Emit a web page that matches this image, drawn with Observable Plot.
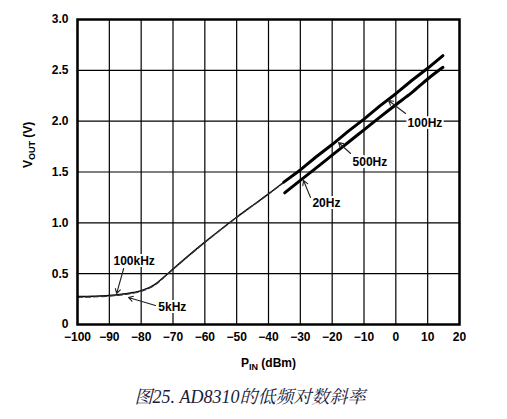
<!DOCTYPE html>
<html><head><meta charset="utf-8">
<script src="https://cdn.jsdelivr.net/npm/d3@7"></script>
<script src="https://cdn.jsdelivr.net/npm/@observablehq/plot@0.6"></script>
<style>
body{margin:0;background:#fff;}
#cap{width:500px;text-align:center;font:italic 18px "Liberation Serif","Noto Serif CJK SC","Noto Sans CJK SC",serif;color:#1b1b3a;line-height:26px;}
</style></head><body><div id="chart"></div><div id="cap">图25. AD8310的低频对数斜率</div>
<script>
// tick values
const xTicks = [-100,-90,-80,-70,-60,-50,-40,-30,-20,-10,0,10,20];
const yTicks = [0,0.5,1.0,1.5,2.0,2.5,3.0];

// low-frequency curves (thin)
const mainX = [-100,-95,-90,-85,-80,-77,-75,-72,-70,-65,-60,-55,-50,-45,-40,-35];
const v100k = [0.275,0.278,0.285,0.302,0.333,0.37,0.41,0.49,0.545,0.68,0.81,0.935,1.055,1.17,1.285,1.405];
const v5k   = [0.268,0.272,0.280,0.296,0.327,0.365,0.405,0.487,0.543,0.678,0.808,0.933,1.053,1.168,1.283,1.403];

// thick envelope lines
const upperX = [-35.2,-30,-25,-20,-15,-10,-5,0,5,10,14.8];
const upperV = [1.40,1.52,1.65,1.77,1.90,2.02,2.15,2.27,2.40,2.52,2.645];
const lowerX = [-34.9,-30,-25,-20,-15,-10,-5,0,5,10,14.8];
const lowerV = [1.295,1.417,1.54,1.666,1.79,1.915,2.04,2.162,2.28,2.415,2.53];

// annotations
const labelText = ["100Hz","500Hz","20Hz","100kHz","5kHz"];
const labelX = [3.7,-13.6,-26.2,-88.7,-74.6];
const labelY = [1.977,1.593,1.19,0.62,0.167];
const arrowX1 = [3.05,-14.2,-26.8,-85.5,-75.5];
const arrowY1 = [2.075,1.682,1.249,0.551,0.187];
const arrowX2 = [-2.3,-18.0,-29.0,-87.7,-84.0];
const arrowY2 = [2.203,1.790,1.416,0.305,0.266];

const mainData = mainX.map((x,i)=>({x, a:v100k[i], b:v5k[i]}));
const upperData = upperX.map((x,i)=>({x, y:upperV[i]}));
const lowerData = lowerX.map((x,i)=>({x, y:lowerV[i]}));
const labels = labelText.map((t,i)=>({t, x:labelX[i], y:labelY[i]}));
const arrows = arrowX1.map((x1,i)=>({x1, y1:arrowY1[i], x2:arrowX2[i], y2:arrowY2[i]}));

const chart = Plot.plot({
  width: 507, height: 384,
  marginLeft: 77, marginRight: 48, marginTop: 19, marginBottom: 60,
  style: {fontFamily: '"Liberation Sans", Arial, sans-serif', fontSize: "12px", fontWeight: "bold", color: "black", background: "white"},
  x: {domain: [-100, 20]},
  y: {domain: [0, 3]},
  marks: [
    Plot.gridX(xTicks, {stroke: "black", strokeOpacity: 1, strokeWidth: 1.2}),
    Plot.gridY(yTicks, {stroke: "black", strokeOpacity: 1, strokeWidth: 1.2}),
    Plot.axisX({ticks: xTicks, tickSize: 0, tickPadding: 8, label: null}),
    Plot.axisY({ticks: yTicks, tickSize: 0, tickPadding: 9, label: null, tickFormat: d => d === 0 ? "0" : d.toFixed(1)}),
    Plot.line(mainData, {x: "x", y: "a", stroke: "black", strokeWidth: 1.4, curve: "monotone-x"}),
    Plot.line(mainData, {x: "x", y: "b", stroke: "#333", strokeWidth: 1.4, strokeDasharray: "5,3", curve: "monotone-x"}),
    Plot.line(upperData, {x: "x", y: "y", stroke: "black", strokeWidth: 3}),
    Plot.line(lowerData, {x: "x", y: "y", stroke: "black", strokeWidth: 3, curve: "monotone-x"}),
    Plot.arrow(arrows, {x1: "x1", y1: "y1", x2: "x2", y2: "y2", stroke: "#222", strokeWidth: 1.1, headLength: 7}),
    Plot.text(labels, {x: "x", y: "y", text: "t", textAnchor: "start", lineAnchor: "middle", fontSize: 12, fontWeight: "bold", fill: "black", stroke: "white", strokeWidth: 4}),
    Plot.frame({stroke: "black", strokeWidth: 2.5}),
    Plot.text(["PIN (dBm)"], {text: d => d, frameAnchor: "bottom", dy: 39, lineAnchor: "middle", fontSize: 12, fontWeight: "bold"}),
    Plot.text(["VOUT (V)"], {text: d => d, frameAnchor: "left", dx: -49, dy: -4, rotate: -90, lineAnchor: "middle", fontSize: 12, fontWeight: "bold"})
  ]
});

// subscripts in axis titles
chart.querySelectorAll("text").forEach(t => {
  const s = t.textContent;
  let parts = null;
  if (s === "PIN (dBm)") parts = ["P", "IN", " (dBm)"];
  if (s === "VOUT (V)") parts = ["V", "OUT", " (V)"];
  if (!parts) return;
  while (t.firstChild) t.removeChild(t.firstChild);
  const ns = "http://www.w3.org/2000/svg";
  const a = document.createElementNS(ns, "tspan"); a.textContent = parts[0];
  const b = document.createElementNS(ns, "tspan"); b.textContent = parts[1]; b.setAttribute("font-size", "9"); b.setAttribute("dy", "3");
  const c = document.createElementNS(ns, "tspan"); c.textContent = parts[2]; c.setAttribute("dy", "-3");
  t.append(a, b, c);
});

document.getElementById("chart").appendChild(chart);
</script></body></html>
